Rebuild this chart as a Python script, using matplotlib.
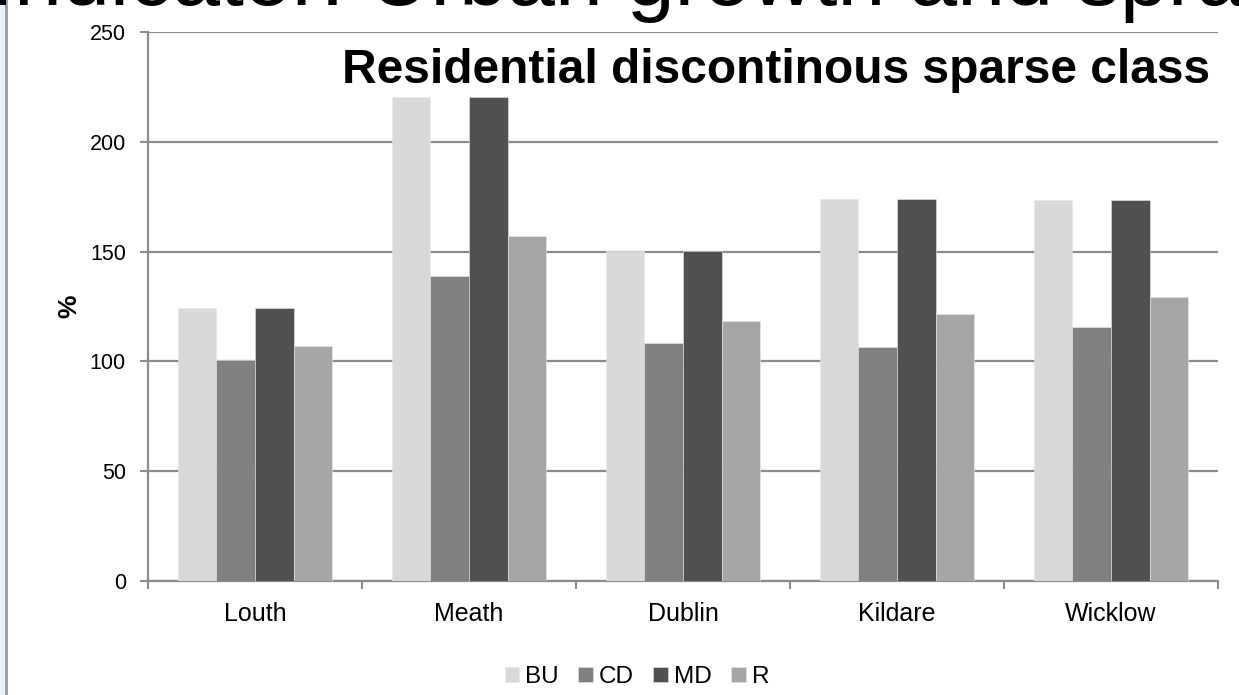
import numpy as np
import matplotlib
matplotlib.use("Agg")
import matplotlib.pyplot as plt
from matplotlib.patches import Rectangle
from matplotlib.lines import Line2D

plt.rcParams['font.family'] = ['Liberation Sans', 'DejaVu Sans']

# data
counties = ["Louth", "Meath", "Dublin", "Kildare", "Wicklow"]
series = ["BU", "CD", "MD", "R"]
bu = [124.5, 220.3, 150.5, 173.8, 173.4]
cd = [100.6, 138.8, 108.5, 106.4, 115.8]
md = [124.5, 220.3, 150.5, 173.8, 173.4]
r = [107.2, 157.3, 118.2, 121.7, 129.5]
colors = ["#d9d9d9", "#808080", "#505050", "#a6a6a6"]

fig = plt.figure(figsize=(12.39, 6.95), dpi=100)
ax = fig.add_axes([148 / 1239, 1 - 581 / 695, (1218 - 148) / 1239, (581 - 32) / 695])

# slide decoration on the left edge
fig.patches.append(Rectangle((0, 0), 5 / 1239, 1, transform=fig.transFigure,
                             color="#e6f2fc", zorder=0))
fig.lines.append(Line2D([6 / 1239, 6 / 1239], [0, 1], transform=fig.transFigure,
                        color="#9a9a9a", lw=2))

# slide title, cut off at the top
fig.text(-10 / 1239, 1 - 5 / 695, "Indicator: Urban growth and sprawl",
         fontsize=62, va="baseline", ha="left", color="black")

x = np.arange(len(counties))
w = 0.181
for i, (vals, name) in enumerate(zip([bu, cd, md, r], series)):
    ax.bar(x + (i - 1.5) * w, vals, w, color=colors[i], label=name,
           edgecolor="#e8e8e8", linewidth=0.4, zorder=3)

ax.set_xlim(-0.5, 4.5)
ax.set_ylim(0, 250)
ax.set_yticks([0, 50, 100, 150, 200, 250])
ax.yaxis.grid(True, color="#8c8c8c", linewidth=1.6)
ax.set_axisbelow(True)

ax.set_xticks(np.arange(-0.5, 5, 1))
ax.set_xticklabels([])
ax.set_xticks(x, minor=True)
ax.set_xticklabels(counties, minor=True, fontsize=18)
ax.tick_params(axis="x", which="minor", length=0, pad=15)
ax.tick_params(axis="x", which="major", length=6, width=1.5, color="#8c8c8c")
ax.tick_params(axis="y", length=6, width=1.5, color="#8c8c8c", labelsize=15.5, pad=10)

for s in ["top", "right"]:
    ax.spines[s].set_visible(False)
for s in ["left", "bottom"]:
    ax.spines[s].set_color("#8c8c8c")
    ax.spines[s].set_linewidth(1.6)

ax.set_ylabel("%", fontsize=19, fontweight="bold", labelpad=6)

ax.text(776 / 1239, 1 - 83 / 695, "Residential discontinous sparse class",
        transform=fig.transFigure, ha="center", va="baseline",
        fontsize=34.5, fontweight="bold")

fig.legend(loc="center", bbox_to_anchor=(637 / 1239, 1 - 677 / 695), ncol=4,
           frameon=False, fontsize=17.5, handlelength=0.6, handleheight=0.6,
           handletextpad=0.25, columnspacing=0.8)

fig.savefig("out.png", dpi=100)
